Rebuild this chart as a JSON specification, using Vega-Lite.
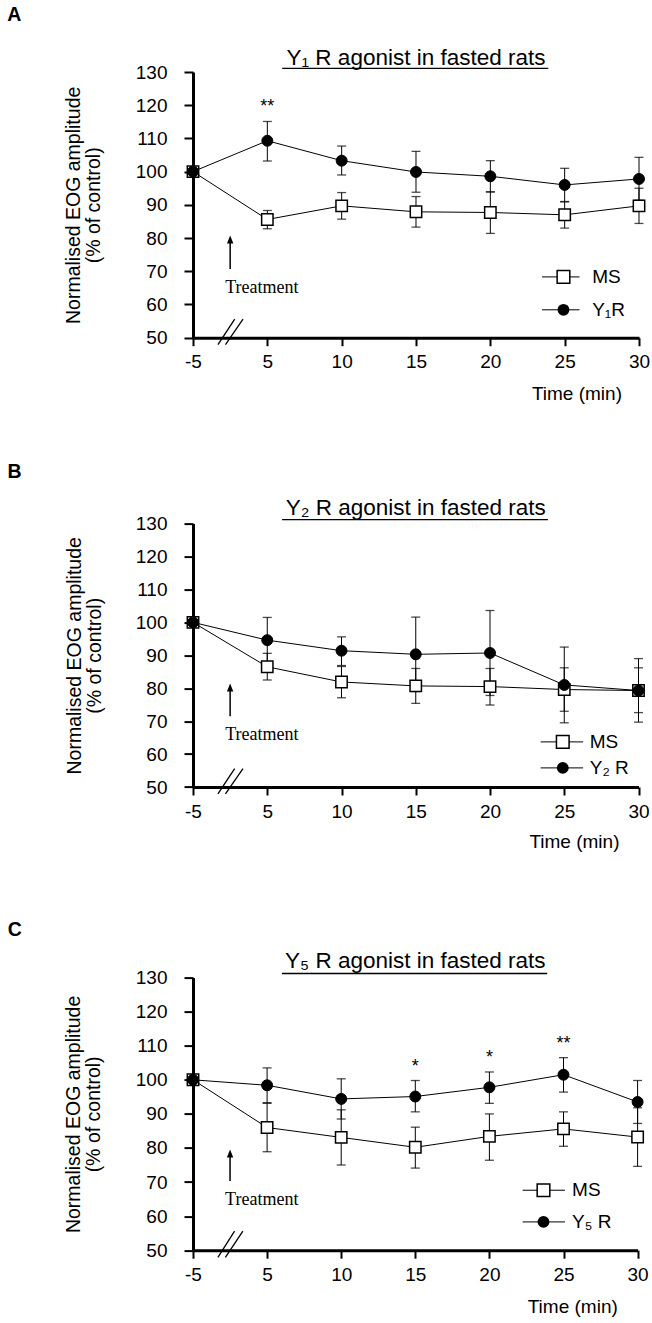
{
  "$schema": "https://vega.github.io/schema/vega-lite/v6.json",
  "autosize": {"type": "pad"},
  "padding": {"left": 7, "top": 5, "right": 5, "bottom": 5},
  "background": "white",
  "config": {
    "view": {"stroke": null},
    "font": "Liberation Sans",
    "axis": {
      "domainColor": "black", "domainWidth": 3, "tickColor": "black", "tickWidth": 2,
      "labelColor": "black", "labelFont": "Liberation Sans", "labelFontSize": 19,
      "titleFont": "Liberation Sans", "titleFontWeight": "normal", "titleColor": "black", "grid": false
    },
    "text": {"font": "Liberation Sans", "color": "black"}
  },
  "datasets": {
    "A": [
      {"time": -5, "series": "MS", "mean": 100, "lo": 100, "hi": 100, "sig": ""},
      {"time": 5, "series": "MS", "mean": 85.6, "lo": 82.8, "hi": 88.3, "sig": ""},
      {"time": 10, "series": "MS", "mean": 89.7, "lo": 85.7, "hi": 93.7, "sig": ""},
      {"time": 15, "series": "MS", "mean": 87.9, "lo": 83.3, "hi": 92.5, "sig": ""},
      {"time": 20, "series": "MS", "mean": 87.7, "lo": 81.4, "hi": 93.9, "sig": ""},
      {"time": 25, "series": "MS", "mean": 87.0, "lo": 83.0, "hi": 91.0, "sig": ""},
      {"time": 30, "series": "MS", "mean": 89.7, "lo": 84.4, "hi": 95.0, "sig": ""},
      {"time": -5, "series": "Y₁R", "mean": 100, "lo": 100, "hi": 100, "sig": ""},
      {"time": 5, "series": "Y₁R", "mean": 109.3, "lo": 103.2, "hi": 115.1, "sig": "**"},
      {"time": 10, "series": "Y₁R", "mean": 103.3, "lo": 99.0, "hi": 107.7, "sig": ""},
      {"time": 15, "series": "Y₁R", "mean": 99.9, "lo": 93.8, "hi": 106.1, "sig": ""},
      {"time": 20, "series": "Y₁R", "mean": 98.6, "lo": 93.9, "hi": 103.3, "sig": ""},
      {"time": 25, "series": "Y₁R", "mean": 96.0, "lo": 90.9, "hi": 101.0, "sig": ""},
      {"time": 30, "series": "Y₁R", "mean": 97.8, "lo": 91.4, "hi": 104.3, "sig": ""}
    ],
    "B": [
      {"time": -5, "series": "MS", "mean": 100, "lo": 100, "hi": 100, "sig": ""},
      {"time": 5, "series": "MS", "mean": 86.5, "lo": 82.5, "hi": 90.6, "sig": ""},
      {"time": 10, "series": "MS", "mean": 81.9, "lo": 77.1, "hi": 86.6, "sig": ""},
      {"time": 15, "series": "MS", "mean": 80.7, "lo": 75.4, "hi": 86.0, "sig": ""},
      {"time": 20, "series": "MS", "mean": 80.5, "lo": 74.9, "hi": 86.0, "sig": ""},
      {"time": 25, "series": "MS", "mean": 79.6, "lo": 73.0, "hi": 86.2, "sig": ""},
      {"time": 30, "series": "MS", "mean": 79.3, "lo": 72.6, "hi": 86.2, "sig": ""},
      {"time": -5, "series": "Y₂ R", "mean": 100, "lo": 100, "hi": 100, "sig": ""},
      {"time": 5, "series": "Y₂ R", "mean": 94.6, "lo": 87.7, "hi": 101.5, "sig": ""},
      {"time": 10, "series": "Y₂ R", "mean": 91.4, "lo": 86.9, "hi": 95.6, "sig": ""},
      {"time": 15, "series": "Y₂ R", "mean": 90.3, "lo": 79.0, "hi": 101.6, "sig": ""},
      {"time": 20, "series": "Y₂ R", "mean": 90.7, "lo": 77.8, "hi": 103.6, "sig": ""},
      {"time": 25, "series": "Y₂ R", "mean": 81.0, "lo": 69.5, "hi": 92.5, "sig": ""},
      {"time": 30, "series": "Y₂ R", "mean": 79.3, "lo": 69.7, "hi": 89.0, "sig": ""}
    ],
    "C": [
      {"time": -5, "series": "MS", "mean": 100, "lo": 100, "hi": 100, "sig": ""},
      {"time": 5, "series": "MS", "mean": 86.0, "lo": 78.9, "hi": 93.1, "sig": ""},
      {"time": 10, "series": "MS", "mean": 83.1, "lo": 75.0, "hi": 91.2, "sig": ""},
      {"time": 15, "series": "MS", "mean": 80.2, "lo": 74.1, "hi": 86.1, "sig": ""},
      {"time": 20, "series": "MS", "mean": 83.4, "lo": 76.4, "hi": 90.0, "sig": ""},
      {"time": 25, "series": "MS", "mean": 85.6, "lo": 80.5, "hi": 90.6, "sig": ""},
      {"time": 30, "series": "MS", "mean": 83.2, "lo": 74.6, "hi": 91.8, "sig": ""},
      {"time": -5, "series": "Y₅ R", "mean": 100, "lo": 100, "hi": 100, "sig": ""},
      {"time": 5, "series": "Y₅ R", "mean": 98.4, "lo": 93.3, "hi": 103.5, "sig": ""},
      {"time": 10, "series": "Y₅ R", "mean": 94.4, "lo": 88.5, "hi": 100.3, "sig": ""},
      {"time": 15, "series": "Y₅ R", "mean": 95.1, "lo": 90.6, "hi": 99.8, "sig": "*"},
      {"time": 20, "series": "Y₅ R", "mean": 97.8, "lo": 93.1, "hi": 102.3, "sig": "*"},
      {"time": 25, "series": "Y₅ R", "mean": 101.5, "lo": 96.4, "hi": 106.5, "sig": "**"},
      {"time": 30, "series": "Y₅ R", "mean": 93.5, "lo": 87.2, "hi": 99.8, "sig": ""}
    ]
  },
  "bounds": "flush",
  "spacing": 185.6,
  "resolve": {"scale": {"x": "independent", "y": "independent"}},
  "vconcat": [
    {
      "width": 446, "height": 265.7,
      "data": {"name": "A"},
      "resolve": {"axis": {"y": "independent"}},
      "layer": [
        {
          "mark": {"type": "line", "color": "black", "strokeWidth": 1},
          "encoding": {
            "x": {"field": "time", "type": "quantitative",
              "scale": {"domain": [-5, 5, 30], "range": [0, 74.33, 446], "nice": false, "zero": false},
              "axis": {"values": [-5, 5, 10, 15, 20, 25, 30], "format": "d", "labelExpr": "datum.value < 0 ? '-5' : datum.label", "tickSize": 8, "labelPadding": 7, "title": "Time (min)", "titleFontSize": 19, "titleX": 428.5, "titleY": 61.3, "titleAlign": "right", "titleBaseline": "alphabetic", "labelFlush": false}},
            "y": {"field": "mean", "type": "quantitative",
              "scale": {"domain": [50, 130], "nice": false, "zero": false},
              "axis": {"values": [50, 60, 70, 80, 90, 100, 110, 120, 130], "tickSize": 9, "labelPadding": 17, "labelOverlap": false, "title": ["Normalised EOG amplitude", "(% of control)"], "titleFontSize": 19.5, "titleLineHeight": 20, "titleX": -110, "titleY": 132.85, "titleAlign": "center", "titleBaseline": "bottom", "titleAngle": -90}},
            "detail": {"field": "series"}
          }
        },
        {
          "mark": {"type": "errorbar", "ticks": {"size": 9, "thickness": 1.3, "color": "black"}, "rule": {"color": "black", "strokeWidth": 1}},
          "encoding": {
            "x": {"field": "time", "type": "quantitative"},
            "y": {"field": "lo", "type": "quantitative", "axis": null},
            "y2": {"field": "hi"}
          }
        },
        {
          "transform": [{"filter": "datum.series == 'MS'"}],
          "mark": {"type": "point", "shape": "square", "size": 130, "filled": true, "fill": "white", "stroke": "black", "strokeWidth": 1.5, "opacity": 1},
          "encoding": {"x": {"field": "time", "type": "quantitative"}, "y": {"field": "mean", "type": "quantitative", "axis": null}}
        },
        {
          "transform": [{"filter": "datum.series != 'MS'"}],
          "mark": {"type": "point", "shape": "circle", "size": 120, "filled": true, "fill": "black", "stroke": "black", "strokeWidth": 1, "opacity": 1},
          "encoding": {"x": {"field": "time", "type": "quantitative"}, "y": {"field": "mean", "type": "quantitative", "axis": null}}
        },
        {
          "transform": [{"filter": "datum.sig != ''"}],
          "mark": {"type": "text", "fontSize": 18, "baseline": "alphabetic", "align": "center", "dy": -9},
          "encoding": {"x": {"field": "time", "type": "quantitative"}, "y": {"field": "hi", "type": "quantitative", "axis": null}, "text": {"field": "sig"}}
        },
        {
          "data": {"values": [{}]},
          "mark": {"type": "text", "fontSize": 22.5, "baseline": "alphabetic", "align": "center"},
          "encoding": {"x": {"datum": 15}, "y": {"datum": 132.1, "axis": null}, "text": {"value": "Y₁ R agonist in fasted rats"}}
        },
        {
          "data": {"values": [{}]},
          "mark": {"type": "rule", "color": "black", "strokeWidth": 1.3},
          "encoding": {"x": {"datum": 6.0}, "x2": {"datum": 23.9}, "y": {"datum": 131.1, "axis": null}}
        },
        {
          "data": {"values": [{}]},
          "mark": {"type": "text", "fontSize": 19.5, "fontWeight": "bold", "baseline": "alphabetic", "align": "left"},
          "encoding": {"x": {"datum": -30}, "y": {"datum": 145.3, "axis": null}, "text": {"value": "A"}}
        },
        {
          "data": {"values": [{}]},
          "mark": {"type": "rule", "color": "black", "strokeWidth": 1.5},
          "encoding": {"x": {"datum": 0}, "y": {"datum": 70.7, "axis": null}, "y2": {"datum": 79}}
        },
        {
          "data": {"values": [{}]},
          "mark": {"type": "point", "shape": "M0,-1L-0.8,1L0.8,1Z", "size": 64, "filled": true, "fill": "black", "stroke": null, "opacity": 1},
          "encoding": {"x": {"datum": 0}, "y": {"datum": 79.6, "axis": null}}
        },
        {
          "data": {"values": [{}]},
          "mark": {"type": "text", "font": "Liberation Serif", "fontSize": 18, "baseline": "alphabetic", "align": "left", "dx": -5},
          "encoding": {"x": {"datum": 0}, "y": {"datum": 63.4, "axis": null}, "text": {"value": "Treatment"}}
        },
        {
          "data": {"values": [{}]},
          "mark": {"type": "rule", "color": "black", "strokeWidth": 1.3},
          "encoding": {"x": {"datum": -1.64}, "x2": {"datum": 0.61}, "y": {"datum": 47.9, "axis": null}, "y2": {"datum": 55.6}}
        },
        {
          "data": {"values": [{}]},
          "mark": {"type": "rule", "color": "black", "strokeWidth": 1.3},
          "encoding": {"x": {"datum": -0.63}, "x2": {"datum": 1.73}, "y": {"datum": 47.9, "axis": null}, "y2": {"datum": 55.6}}
        },
        {
          "data": {"values": [{}]},
          "mark": {"type": "rule", "color": "black", "strokeWidth": 1},
          "encoding": {"x": {"datum": 23.48}, "x2": {"datum": 26.0}, "y": {"datum": 68.3, "axis": null}}
        },
        {
          "data": {"values": [{}]},
          "mark": {"type": "rule", "color": "black", "strokeWidth": 1},
          "encoding": {"x": {"datum": 23.48}, "x2": {"datum": 26.0}, "y": {"datum": 58.4, "axis": null}}
        },
        {
          "data": {"values": [{}]},
          "mark": {"type": "point", "shape": "square", "size": 160, "filled": true, "fill": "white", "stroke": "black", "strokeWidth": 1.5, "opacity": 1},
          "encoding": {"x": {"datum": 24.92}, "y": {"datum": 68.3, "axis": null}}
        },
        {
          "data": {"values": [{}]},
          "mark": {"type": "point", "shape": "circle", "size": 140, "filled": true, "fill": "black", "opacity": 1},
          "encoding": {"x": {"datum": 24.92}, "y": {"datum": 58.4, "axis": null}}
        },
        {
          "data": {"values": [{}]},
          "mark": {"type": "text", "fontSize": 19, "baseline": "middle", "align": "left"},
          "encoding": {"x": {"datum": 26.85}, "y": {"datum": 68.3, "axis": null}, "text": {"value": "MS"}}
        },
        {
          "data": {"values": [{}]},
          "mark": {"type": "text", "fontSize": 19, "baseline": "middle", "align": "left"},
          "encoding": {"x": {"datum": 26.85}, "y": {"datum": 58.4, "axis": null}, "text": {"value": "Y₁R"}}
        }
      ]
    },
    {
      "bounds": "flush",
      "spacing": 190,
      "resolve": {"scale": {"x": "independent", "y": "independent"}},
      "vconcat": [
        {
          "width": 445.5, "height": 263.4,
          "data": {"name": "B"},
          "resolve": {"axis": {"y": "independent"}},
          "layer": [
            {
              "mark": {"type": "line", "color": "black", "strokeWidth": 1},
              "encoding": {
                "x": {"field": "time", "type": "quantitative",
                  "scale": {"domain": [-5, 5, 30], "range": [0, 74.25, 445.5], "nice": false, "zero": false},
                  "axis": {"values": [-5, 5, 10, 15, 20, 25, 30], "format": "d", "labelExpr": "datum.value < 0 ? '-5' : datum.label", "tickSize": 8, "labelPadding": 7, "title": "Time (min)", "titleFontSize": 19, "titleX": 426, "titleY": 60, "titleAlign": "right", "titleBaseline": "alphabetic", "labelFlush": false}},
                "y": {"field": "mean", "type": "quantitative",
                  "scale": {"domain": [50, 130], "nice": false, "zero": false},
                  "axis": {"values": [50, 60, 70, 80, 90, 100, 110, 120, 130], "tickSize": 9, "labelPadding": 17, "labelOverlap": false, "title": ["Normalised EOG amplitude", "(% of control)"], "titleFontSize": 19.5, "titleLineHeight": 20, "titleX": -109, "titleY": 131.7, "titleAlign": "center", "titleBaseline": "bottom", "titleAngle": -90}},
                "detail": {"field": "series"}
              }
            },
            {
              "mark": {"type": "errorbar", "ticks": {"size": 9, "thickness": 1.3, "color": "black"}, "rule": {"color": "black", "strokeWidth": 1}},
              "encoding": {
                "x": {"field": "time", "type": "quantitative"},
                "y": {"field": "lo", "type": "quantitative", "axis": null},
                "y2": {"field": "hi"}
              }
            },
            {
              "transform": [{"filter": "datum.series == 'MS'"}],
              "mark": {"type": "point", "shape": "square", "size": 130, "filled": true, "fill": "white", "stroke": "black", "strokeWidth": 1.5, "opacity": 1},
              "encoding": {"x": {"field": "time", "type": "quantitative"}, "y": {"field": "mean", "type": "quantitative", "axis": null}}
            },
            {
              "transform": [{"filter": "datum.series != 'MS'"}],
              "mark": {"type": "point", "shape": "circle", "size": 120, "filled": true, "fill": "black", "stroke": "black", "strokeWidth": 1, "opacity": 1},
              "encoding": {"x": {"field": "time", "type": "quantitative"}, "y": {"field": "mean", "type": "quantitative", "axis": null}}
            },
            {
              "data": {"values": [{}]},
              "mark": {"type": "text", "fontSize": 22.5, "baseline": "alphabetic", "align": "center"},
              "encoding": {"x": {"datum": 15}, "y": {"datum": 132.5, "axis": null}, "text": {"value": "Y₂ R agonist in fasted rats"}}
            },
            {
              "data": {"values": [{}]},
              "mark": {"type": "rule", "color": "black", "strokeWidth": 1.3},
              "encoding": {"x": {"datum": 6.0}, "x2": {"datum": 23.9}, "y": {"datum": 131.2, "axis": null}}
            },
            {
              "data": {"values": [{}]},
              "mark": {"type": "text", "fontSize": 19.5, "fontWeight": "bold", "baseline": "alphabetic", "align": "left"},
              "encoding": {"x": {"datum": -30}, "y": {"datum": 143.7, "axis": null}, "text": {"value": "B"}}
            },
            {
              "data": {"values": [{}]},
              "mark": {"type": "rule", "color": "black", "strokeWidth": 1.5},
              "encoding": {"x": {"datum": 0}, "y": {"datum": 71.5, "axis": null}, "y2": {"datum": 79.6}}
            },
            {
              "data": {"values": [{}]},
              "mark": {"type": "point", "shape": "M0,-1L-0.8,1L0.8,1Z", "size": 64, "filled": true, "fill": "black", "stroke": null, "opacity": 1},
              "encoding": {"x": {"datum": 0}, "y": {"datum": 80.2, "axis": null}}
            },
            {
              "data": {"values": [{}]},
              "mark": {"type": "text", "font": "Liberation Serif", "fontSize": 18, "baseline": "alphabetic", "align": "left", "dx": -5},
              "encoding": {"x": {"datum": 0}, "y": {"datum": 64.2, "axis": null}, "text": {"value": "Treatment"}}
            },
            {
              "data": {"values": [{}]},
              "mark": {"type": "rule", "color": "black", "strokeWidth": 1.3},
              "encoding": {"x": {"datum": -1.64}, "x2": {"datum": 0.61}, "y": {"datum": 47.9, "axis": null}, "y2": {"datum": 55.6}}
            },
            {
              "data": {"values": [{}]},
              "mark": {"type": "rule", "color": "black", "strokeWidth": 1.3},
              "encoding": {"x": {"datum": -0.63}, "x2": {"datum": 1.73}, "y": {"datum": 47.9, "axis": null}, "y2": {"datum": 55.6}}
            },
            {
              "data": {"values": [{}]},
              "mark": {"type": "rule", "color": "black", "strokeWidth": 1},
              "encoding": {"x": {"datum": 23.41}, "x2": {"datum": 26.27}, "y": {"datum": 63.7, "axis": null}}
            },
            {
              "data": {"values": [{}]},
              "mark": {"type": "rule", "color": "black", "strokeWidth": 1},
              "encoding": {"x": {"datum": 23.41}, "x2": {"datum": 26.27}, "y": {"datum": 55.8, "axis": null}}
            },
            {
              "data": {"values": [{}]},
              "mark": {"type": "point", "shape": "square", "size": 160, "filled": true, "fill": "white", "stroke": "black", "strokeWidth": 1.5, "opacity": 1},
              "encoding": {"x": {"datum": 24.9}, "y": {"datum": 63.7, "axis": null}}
            },
            {
              "data": {"values": [{}]},
              "mark": {"type": "point", "shape": "circle", "size": 140, "filled": true, "fill": "black", "opacity": 1},
              "encoding": {"x": {"datum": 24.9}, "y": {"datum": 55.8, "axis": null}}
            },
            {
              "data": {"values": [{}]},
              "mark": {"type": "text", "fontSize": 19, "baseline": "middle", "align": "left"},
              "encoding": {"x": {"datum": 26.72}, "y": {"datum": 63.7, "axis": null}, "text": {"value": "MS"}}
            },
            {
              "data": {"values": [{}]},
              "mark": {"type": "text", "fontSize": 19, "baseline": "middle", "align": "left"},
              "encoding": {"x": {"datum": 26.72}, "y": {"datum": 55.8, "axis": null}, "text": {"value": "Y₂ R"}}
            }
          ]
        },
        {
          "width": 444.6, "height": 272.6,
          "data": {"name": "C"},
          "resolve": {"axis": {"y": "independent"}},
          "layer": [
            {
              "mark": {"type": "line", "color": "black", "strokeWidth": 1},
              "encoding": {
                "x": {"field": "time", "type": "quantitative",
                  "scale": {"domain": [-5, 5, 30], "range": [0, 74.1, 444.6], "nice": false, "zero": false},
                  "axis": {"values": [-5, 5, 10, 15, 20, 25, 30], "format": "d", "labelExpr": "datum.value < 0 ? '-5' : datum.label", "tickSize": 8, "labelPadding": 7, "title": "Time (min)", "titleFontSize": 19, "titleX": 424.3, "titleY": 62.7, "titleAlign": "right", "titleBaseline": "alphabetic", "labelFlush": false}},
                "y": {"field": "mean", "type": "quantitative",
                  "scale": {"domain": [50, 130], "nice": false, "zero": false},
                  "axis": {"values": [50, 60, 70, 80, 90, 100, 110, 120, 130], "tickSize": 9, "labelPadding": 17, "labelOverlap": false, "title": ["Normalised EOG amplitude", "(% of control)"], "titleFontSize": 19.5, "titleLineHeight": 20, "titleX": -110, "titleY": 136.3, "titleAlign": "center", "titleBaseline": "bottom", "titleAngle": -90}},
                "detail": {"field": "series"}
              }
            },
            {
              "mark": {"type": "errorbar", "ticks": {"size": 9, "thickness": 1.3, "color": "black"}, "rule": {"color": "black", "strokeWidth": 1}},
              "encoding": {
                "x": {"field": "time", "type": "quantitative"},
                "y": {"field": "lo", "type": "quantitative", "axis": null},
                "y2": {"field": "hi"}
              }
            },
            {
              "transform": [{"filter": "datum.series == 'MS'"}],
              "mark": {"type": "point", "shape": "square", "size": 130, "filled": true, "fill": "white", "stroke": "black", "strokeWidth": 1.5, "opacity": 1},
              "encoding": {"x": {"field": "time", "type": "quantitative"}, "y": {"field": "mean", "type": "quantitative", "axis": null}}
            },
            {
              "transform": [{"filter": "datum.series != 'MS'"}],
              "mark": {"type": "point", "shape": "circle", "size": 120, "filled": true, "fill": "black", "stroke": "black", "strokeWidth": 1, "opacity": 1},
              "encoding": {"x": {"field": "time", "type": "quantitative"}, "y": {"field": "mean", "type": "quantitative", "axis": null}}
            },
            {
              "transform": [{"filter": "datum.sig != ''"}],
              "mark": {"type": "text", "fontSize": 18, "baseline": "alphabetic", "align": "center", "dy": -9},
              "encoding": {"x": {"field": "time", "type": "quantitative"}, "y": {"field": "hi", "type": "quantitative", "axis": null}, "text": {"field": "sig"}}
            },
            {
              "data": {"values": [{}]},
              "mark": {"type": "text", "fontSize": 22.5, "baseline": "alphabetic", "align": "center"},
              "encoding": {"x": {"datum": 15}, "y": {"datum": 132.8, "axis": null}, "text": {"value": "Y₅ R agonist in fasted rats"}}
            },
            {
              "data": {"values": [{}]},
              "mark": {"type": "rule", "color": "black", "strokeWidth": 1.3},
              "encoding": {"x": {"datum": 6.0}, "x2": {"datum": 23.9}, "y": {"datum": 131.2, "axis": null}}
            },
            {
              "data": {"values": [{}]},
              "mark": {"type": "text", "fontSize": 19.5, "fontWeight": "bold", "baseline": "alphabetic", "align": "left"},
              "encoding": {"x": {"datum": -30}, "y": {"datum": 142.2, "axis": null}, "text": {"value": "C"}}
            },
            {
              "data": {"values": [{}]},
              "mark": {"type": "rule", "color": "black", "strokeWidth": 1.5},
              "encoding": {"x": {"datum": 0}, "y": {"datum": 70.3, "axis": null}, "y2": {"datum": 78.2}}
            },
            {
              "data": {"values": [{}]},
              "mark": {"type": "point", "shape": "M0,-1L-0.8,1L0.8,1Z", "size": 64, "filled": true, "fill": "black", "stroke": null, "opacity": 1},
              "encoding": {"x": {"datum": 0}, "y": {"datum": 78.4, "axis": null}}
            },
            {
              "data": {"values": [{}]},
              "mark": {"type": "text", "font": "Liberation Serif", "fontSize": 18, "baseline": "alphabetic", "align": "left", "dx": -5},
              "encoding": {"x": {"datum": 0}, "y": {"datum": 63.3, "axis": null}, "text": {"value": "Treatment"}}
            },
            {
              "data": {"values": [{}]},
              "mark": {"type": "rule", "color": "black", "strokeWidth": 1.3},
              "encoding": {"x": {"datum": -1.64}, "x2": {"datum": 0.61}, "y": {"datum": 47.9, "axis": null}, "y2": {"datum": 55.6}}
            },
            {
              "data": {"values": [{}]},
              "mark": {"type": "rule", "color": "black", "strokeWidth": 1.3},
              "encoding": {"x": {"datum": -0.63}, "x2": {"datum": 1.73}, "y": {"datum": 47.9, "axis": null}, "y2": {"datum": 55.6}}
            },
            {
              "data": {"values": [{}]},
              "mark": {"type": "rule", "color": "black", "strokeWidth": 1},
              "encoding": {"x": {"datum": 22.24}, "x2": {"datum": 25.1}, "y": {"datum": 67.6, "axis": null}}
            },
            {
              "data": {"values": [{}]},
              "mark": {"type": "rule", "color": "black", "strokeWidth": 1},
              "encoding": {"x": {"datum": 22.24}, "x2": {"datum": 25.1}, "y": {"datum": 58.3, "axis": null}}
            },
            {
              "data": {"values": [{}]},
              "mark": {"type": "point", "shape": "square", "size": 160, "filled": true, "fill": "white", "stroke": "black", "strokeWidth": 1.5, "opacity": 1},
              "encoding": {"x": {"datum": 23.65}, "y": {"datum": 67.6, "axis": null}}
            },
            {
              "data": {"values": [{}]},
              "mark": {"type": "point", "shape": "circle", "size": 140, "filled": true, "fill": "black", "opacity": 1},
              "encoding": {"x": {"datum": 23.65}, "y": {"datum": 58.3, "axis": null}}
            },
            {
              "data": {"values": [{}]},
              "mark": {"type": "text", "fontSize": 19, "baseline": "middle", "align": "left"},
              "encoding": {"x": {"datum": 25.58}, "y": {"datum": 67.6, "axis": null}, "text": {"value": "MS"}}
            },
            {
              "data": {"values": [{}]},
              "mark": {"type": "text", "fontSize": 19, "baseline": "middle", "align": "left"},
              "encoding": {"x": {"datum": 25.58}, "y": {"datum": 58.3, "axis": null}, "text": {"value": "Y₅ R"}}
            }
          ]
        }
      ]
    }
  ]
}
